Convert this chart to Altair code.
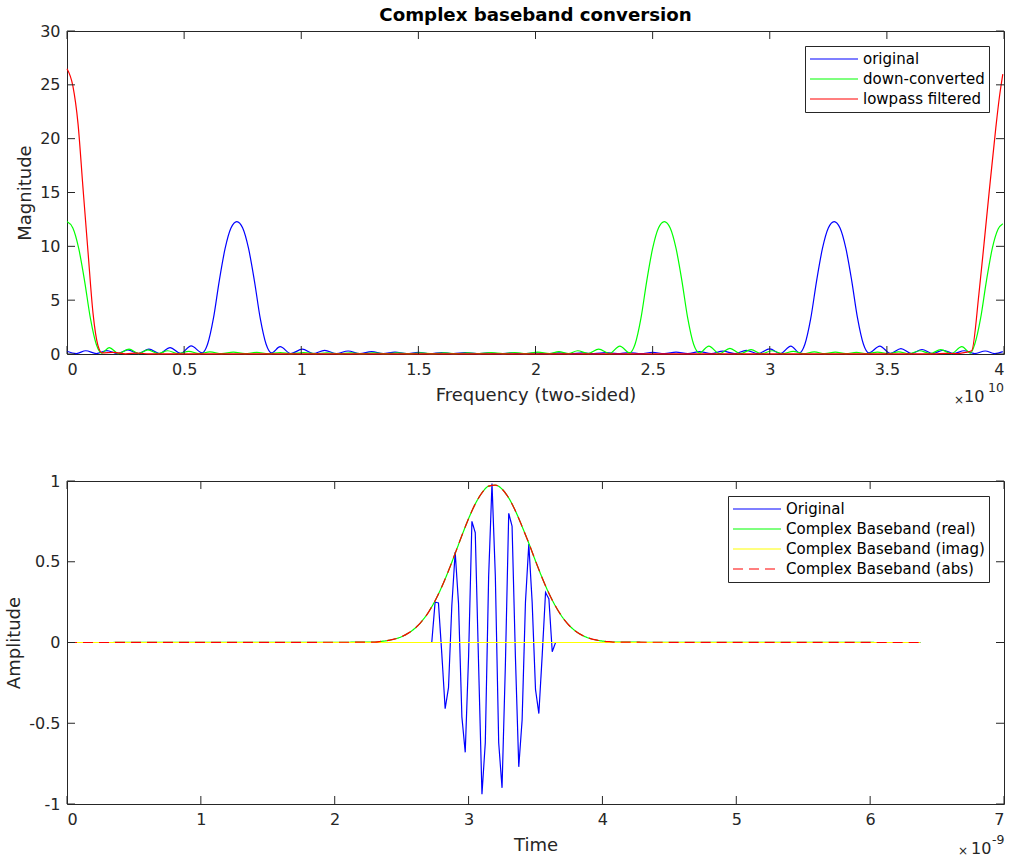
import altair as alt
import pandas as pd

FONT = "DejaVu Sans"
AXC = "#262626"
W, H = 937, 323
TICK = 8

# ---------------- top panel: spectra (frequency in units of 1e10 Hz) ----------------
orig_f = [0.0, 0.04, 0.08, 0.125, 0.17, 0.215, 0.26, 0.305, 0.35, 0.395, 0.44, 0.485, 0.53, 0.577,
          0.60, 0.625, 0.65, 0.675, 0.70, 0.725, 0.75, 0.775, 0.80, 0.825, 0.85, 0.873,
          0.91, 0.955, 1.005, 1.05, 1.10, 1.15, 1.20, 1.25, 1.30, 1.35, 1.40, 1.45, 1.50, 1.55,
          1.60, 1.65, 1.70, 1.75, 1.80, 1.85, 1.90, 1.95, 2.00, 2.05, 2.10, 2.15, 2.20, 2.25,
          2.30, 2.35, 2.40, 2.45, 2.50, 2.55, 2.60, 2.65, 2.70, 2.75, 2.80, 2.85, 2.90, 2.95,
          3.00, 3.045, 3.09, 3.127, 3.15, 3.175, 3.20, 3.225, 3.25, 3.275, 3.30, 3.325, 3.35,
          3.375, 3.40, 3.423, 3.47, 3.515, 3.56, 3.605, 3.65, 3.695, 3.74, 3.785, 3.83, 3.875,
          3.92, 3.96, 3.995]
orig_mag = [0.25, 0.04, 0.30, 0.04, 0.32, 0.04, 0.38, 0.04, 0.45, 0.04, 0.60, 0.05, 0.75, 0.10,
            0.9, 3.3, 6.8, 9.8, 11.7, 12.3, 11.7, 9.8, 6.8, 3.3, 0.9, 0.1,
            0.68, 0.04, 0.45, 0.04, 0.33, 0.04, 0.28, 0.03, 0.22, 0.03, 0.18, 0.03, 0.15, 0.03,
            0.13, 0.03, 0.12, 0.03, 0.10, 0.03, 0.10, 0.03, 0.10, 0.03, 0.10, 0.03, 0.10, 0.03,
            0.12, 0.03, 0.13, 0.03, 0.15, 0.03, 0.18, 0.03, 0.22, 0.03, 0.26, 0.04, 0.33, 0.04,
            0.48, 0.04, 0.74, 0.1, 0.9, 3.3, 6.8, 9.8, 11.7, 12.3, 11.7, 9.8, 6.8,
            3.3, 0.9, 0.1, 0.74, 0.05, 0.5, 0.04, 0.42, 0.04, 0.35, 0.04, 0.30, 0.04,
            0.28, 0.04, 0.22]

down_f = [0.0, 0.025, 0.05, 0.075, 0.10, 0.125, 0.148, 0.18, 0.22, 0.265, 0.305, 0.345, 0.39,
          0.43, 0.475, 0.52, 0.565, 0.61, 0.66, 0.71, 0.76, 0.81, 0.86, 0.91, 0.96, 1.01, 1.06,
          1.11, 1.16, 1.21, 1.26, 1.31, 1.36, 1.41, 1.46, 1.51, 1.56, 1.61, 1.66, 1.71, 1.76,
          1.81, 1.86, 1.91, 1.96, 2.01, 2.06, 2.10, 2.14, 2.18, 2.225, 2.27, 2.315, 2.36, 2.402,
          2.425, 2.45, 2.475, 2.50, 2.525, 2.55, 2.575, 2.60, 2.625, 2.65, 2.675, 2.70,
          2.74, 2.785, 2.83, 2.875, 2.92, 2.965, 3.01, 3.055, 3.10, 3.145, 3.19, 3.235, 3.28,
          3.325, 3.37, 3.415, 3.46, 3.505, 3.55, 3.595, 3.64, 3.685, 3.73, 3.775, 3.82, 3.857,
          3.875, 3.90, 3.925, 3.95, 3.975, 3.995]
down_mag = [12.3, 11.7, 9.8, 6.8, 3.3, 0.9, 0.08, 0.6, 0.04, 0.45, 0.04, 0.38, 0.04,
            0.30, 0.03, 0.25, 0.03, 0.20, 0.03, 0.17, 0.03, 0.15, 0.03, 0.13, 0.03, 0.12, 0.03,
            0.11, 0.03, 0.10, 0.03, 0.10, 0.03, 0.10, 0.03, 0.10, 0.03, 0.10, 0.03, 0.11, 0.03,
            0.12, 0.03, 0.14, 0.03, 0.17, 0.03, 0.22, 0.03, 0.30, 0.04, 0.45, 0.04, 0.74, 0.10,
            0.9, 3.3, 6.8, 9.8, 11.7, 12.3, 11.7, 9.8, 6.8, 3.3, 0.9, 0.1,
            0.74, 0.04, 0.53, 0.04, 0.40, 0.03, 0.30, 0.03, 0.25, 0.03, 0.20, 0.03, 0.17,
            0.03, 0.15, 0.03, 0.17, 0.03, 0.20, 0.03, 0.30, 0.04, 0.40, 0.04, 0.68, 0.08,
            0.9, 3.3, 6.8, 9.8, 11.6, 12.1]

lp_f = [0.0, 0.025, 0.047, 0.068, 0.09, 0.111, 0.132, 0.15, 0.2, 0.25, 0.3, 0.35, 0.6, 1.0,
        1.5, 2.0, 2.5, 3.0, 3.5, 3.7, 3.75, 3.8, 3.835, 3.862, 3.893, 3.915, 3.936, 3.965,
        3.98, 3.995]
lp_mag = [26.5, 24.9, 21.4, 15.5, 9.4, 3.8, 0.8, 0.1, 0.15, 0.02, 0.08, 0.01, 0.01, 0.01,
          0.01, 0.01, 0.01, 0.01, 0.01, 0.02, 0.06, 0.03, 0.15, 0.3, 5.6, 10.3, 14.9, 21.0,
          23.8, 26.0]

freq_ticks = [0, 0.5, 1, 1.5, 2, 2.5, 3, 3.5, 4]
mag_ticks = [0, 5, 10, 15, 20, 25, 30]

# ---------------- bottom panel: time signals (time in units of 1e-9 s) ----------------
t_orig = [0.0, 2.725, 2.75, 2.775, 2.8, 2.825, 2.85, 2.875, 2.9, 2.925, 2.95, 2.975, 3.0,
          3.025, 3.05, 3.075, 3.1, 3.125, 3.15, 3.175, 3.2, 3.225, 3.25, 3.275, 3.3, 3.325,
          3.35, 3.375, 3.4, 3.425, 3.45, 3.475, 3.5, 3.525, 3.55, 3.575, 3.6, 3.625, 3.65, 6.375]
v_orig = [0.0, 0.0, 0.25, 0.245, -0.07, -0.41, -0.28, 0.23, 0.56, 0.24, -0.46, -0.68, -0.09,
          0.75, 0.68, -0.14, -0.94, -0.62, 0.41, 0.985, 0.41, -0.62, -0.90, -0.14, 0.80, 0.72,
          -0.09, -0.77, -0.48, 0.25, 0.61, 0.25, -0.29, -0.44, -0.08, 0.31, 0.27, -0.057, 0.0, 0.0]

t_env = [0.0, 2.3, 2.35, 2.4, 2.45, 2.5, 2.55, 2.6, 2.65, 2.7, 2.75, 2.8, 2.85, 2.9, 2.95, 3.0,
         3.05, 3.1, 3.15, 3.2, 3.25, 3.3, 3.35, 3.4, 3.45, 3.5, 3.55, 3.6, 3.65, 3.7, 3.75, 3.8,
         3.85, 3.9, 3.95, 4.0, 4.05, 4.1, 6.375]
v_real = [0.0, 0.002, 0.007, 0.013, 0.022, 0.036, 0.058, 0.088, 0.131, 0.187, 0.259, 0.345,
          0.444, 0.552, 0.662, 0.767, 0.858, 0.927, 0.968, 0.974, 0.950, 0.895, 0.815, 0.718,
          0.615, 0.505, 0.40, 0.305, 0.224, 0.158, 0.107, 0.070, 0.044, 0.027, 0.016, 0.009,
          0.005, 0.002, 0.0]
t_imag = [0.0, 6.375]
v_imag = [0.0, 0.0]
v_abs = [0.0, 0.002, 0.007, 0.013, 0.022, 0.036, 0.058, 0.088, 0.131, 0.187, 0.259, 0.345,
         0.444, 0.552, 0.662, 0.767, 0.858, 0.927, 0.968, 0.974, 0.950, 0.895, 0.815, 0.718,
         0.615, 0.505, 0.40, 0.305, 0.224, 0.158, 0.107, 0.070, 0.044, 0.027, 0.016, 0.009,
         0.005, 0.002, 0.0]

time_ticks = [0, 1, 2, 3, 4, 5, 6, 7]
amp_ticks = [-1, -0.5, 0, 0.5, 1]

top_names = ["original", "down-converted", "lowpass filtered"]
top_colors = ["#0000ff", "#00ff00", "#ff0000"]
bot_names = ["Original", "Complex Baseband (real)", "Complex Baseband (imag)", "Complex Baseband (abs)"]
bot_colors = ["#0000ff", "#00ff00", "#ffff00", "#ff0000"]
bot_dashes = [[1, 0], [1, 0], [1, 0], [10, 6]]

LEXPR = "replace(format(datum.value, '~g'), '\u2212', '-')"


def series_df(xs, ys, name, xname, yname):
    return pd.DataFrame({xname: xs, yname: ys, "series": name})


top_df = pd.concat([
    series_df(orig_f, orig_mag, top_names[0], "f", "mag"),
    series_df(down_f, down_mag, top_names[1], "f", "mag"),
    series_df(lp_f, lp_mag, top_names[2], "f", "mag"),
], ignore_index=True)

blue_df = series_df(t_orig, v_orig, bot_names[0], "t", "amp")
env_df = pd.concat([
    series_df(t_env, v_real, bot_names[1], "t", "amp"),
    series_df(t_imag, v_imag, bot_names[2], "t", "amp"),
    series_df(t_env, v_abs, bot_names[3], "t", "amp"),
], ignore_index=True)


def legend():
    return alt.Legend(title=None, orient="top-right", offset=15, symbolType="stroke",
                      symbolSize=2304, symbolStrokeWidth=1.2, clipHeight=18, rowPadding=2,
                      padding=4, labelOffset=4, labelFont=FONT, labelFontSize=15,
                      labelColor="#000000", strokeColor=AXC, fillColor="white", labelLimit=400)


def ticks(xticks, yticks, xsc, ysc, xaxis, yaxis):
    xd = pd.DataFrame({"tv": xticks})
    yd = pd.DataFrame({"tv": yticks})
    return [
        alt.Chart(xd).mark_rule(color=AXC, strokeWidth=1).encode(
            x=alt.X("tv:Q", scale=xsc, axis=xaxis), y=alt.value(H), y2=alt.value(H - TICK)),
        alt.Chart(xd).mark_rule(color=AXC, strokeWidth=1).encode(
            x=alt.X("tv:Q", scale=xsc, axis=xaxis), y=alt.value(0), y2=alt.value(TICK)),
        alt.Chart(yd).mark_rule(color=AXC, strokeWidth=1).encode(
            y=alt.Y("tv:Q", scale=ysc, axis=yaxis), x=alt.value(0), x2=alt.value(TICK)),
        alt.Chart(yd).mark_rule(color=AXC, strokeWidth=1).encode(
            y=alt.Y("tv:Q", scale=ysc, axis=yaxis), x=alt.value(W), x2=alt.value(W - TICK)),
    ]


def label(txt, x, y, size):
    return alt.Chart(pd.DataFrame({"s": [txt]})).mark_text(
        text=txt, font=FONT, fontSize=size, color=AXC, align="left", baseline="middle"
    ).encode(x=alt.value(x), y=alt.value(y))


# ---------------- top chart ----------------
xsc_top = alt.Scale(domain=[0, 4], nice=False, zero=False)
ysc_top = alt.Scale(domain=[0, 30], nice=False, zero=False)
xax_top = alt.Axis(values=freq_ticks, title="Frequency (two-sided)", labelExpr=LEXPR)
yax_top = alt.Axis(values=mag_ticks, title="Magnitude", labelExpr=LEXPR)

top_lines = alt.Chart(top_df).mark_line(strokeWidth=1.2, interpolate="monotone").encode(
    x=alt.X("f:Q", scale=xsc_top, axis=xax_top),
    y=alt.Y("mag:Q", scale=ysc_top, axis=yax_top),
    color=alt.Color("series:N", scale=alt.Scale(domain=top_names, range=top_colors), legend=legend()),
)

top = alt.layer(
    top_lines,
    *ticks(freq_ticks, mag_ticks, xsc_top, ysc_top, xax_top, yax_top),
    label("\u00d7", 887, H + 46, 12),
    label("10", 897, H + 43, 16),
    label("10", 921, H + 34, 12.5),
).properties(
    width=W, height=H,
    title=alt.TitleParams("Complex baseband conversion", font=FONT, fontSize=18.2,
                          fontWeight="bold", color="#000000", anchor="middle",
                          frame="group", offset=-2),
)

# ---------------- bottom chart ----------------
xsc_bot = alt.Scale(domain=[0, 7], nice=False, zero=False)
ysc_bot = alt.Scale(domain=[-1, 1], nice=False, zero=False)
xax_bot = alt.Axis(values=time_ticks, title="Time", labelExpr=LEXPR)
yax_bot = alt.Axis(values=amp_ticks, title="Amplitude", labelExpr=LEXPR)
color_bot = alt.Color("series:N", scale=alt.Scale(domain=bot_names, range=bot_colors), legend=legend())
dash_bot = alt.StrokeDash("series:N", scale=alt.Scale(domain=bot_names, range=bot_dashes), legend=legend())

x_bot = alt.X("t:Q", scale=xsc_bot, axis=xax_bot)
y_bot = alt.Y("amp:Q", scale=ysc_bot, axis=yax_bot)

bot_blue = alt.Chart(blue_df).mark_line(strokeWidth=1.2).encode(
    x=x_bot, y=y_bot, color=color_bot, strokeDash=dash_bot)
bot_env = alt.Chart(env_df).mark_line(strokeWidth=1.2, interpolate="monotone").encode(
    x=x_bot, y=y_bot, color=color_bot, strokeDash=dash_bot)

bottom = alt.layer(
    bot_blue, bot_env,
    *ticks(time_ticks, amp_ticks, xsc_bot, ysc_bot, xax_bot, yax_bot),
    label("\u00d7", 891, H + 47, 12),
    label("10", 904, H + 45, 16),
    label("-9", 925, H + 36, 12.5),
).properties(width=W, height=H)

chart = alt.vconcat(top, bottom, spacing=127, bounds="flush").resolve_scale(
    x="independent", y="independent", color="independent", strokeDash="independent"
).resolve_legend(color="independent", strokeDash="independent").configure_view(
    stroke=AXC, strokeWidth=1
).configure_axis(
    labelFont=FONT, titleFont=FONT, labelFontSize=16, titleFontSize=18,
    titleFontWeight="normal", labelColor=AXC, titleColor=AXC, ticks=False, tickSize=0,
    domain=False, grid=False, labelPadding=7,
).configure_axisX(titlePadding=9).configure_axisY(titlePadding=5).properties(
    padding={"left": 5, "right": 0, "top": 5, "bottom": 0}, background="white"
)

chart.save("out.html", embed_options={"renderer": "svg", "actions": False})
